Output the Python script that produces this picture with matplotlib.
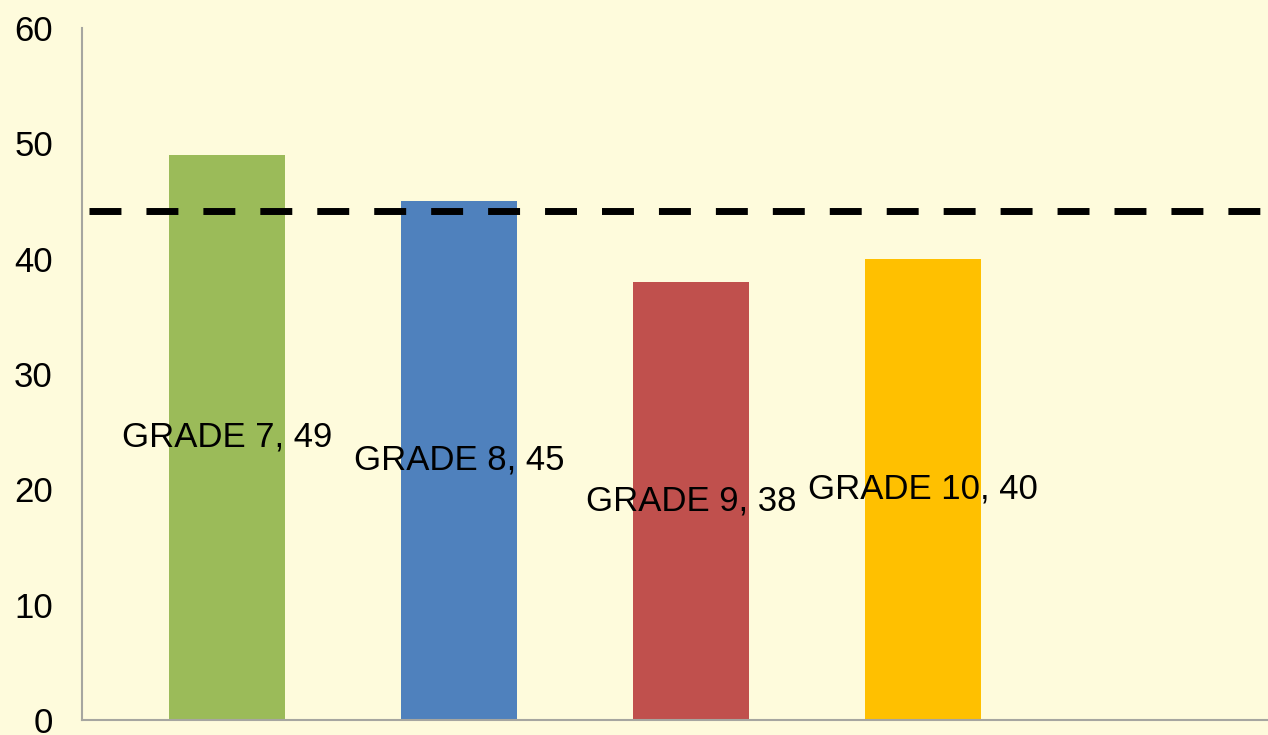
import numpy as np
import matplotlib
matplotlib.use("Agg")
import matplotlib.pyplot as plt

# values
grades = ["GRADE 7", "GRADE 8", "GRADE 9", "GRADE 10"]
scores = [49, 45, 38, 40]
bar_colors = ["#9BBB59", "#4F81BD", "#C0504D", "#FFC000"]
target = 44.1
yticks = [0, 10, 20, 30, 40, 50, 60]

bg = "#FEFBDC"
plt.rcParams['font.family'] = ['Liberation Sans', 'DejaVu Sans']

fig = plt.figure(figsize=(12.68, 7.35), dpi=100)
fig.patch.set_facecolor(bg)
ax = fig.add_axes([82/1268, 15/735, 1186/1268, 692/735])
ax.set_facecolor(bg)

x = np.arange(len(grades))
ax.bar(x, scores, width=0.5, color=bar_colors, zorder=2)

# dashed reference line
ax.plot([-0.595, 5], [target, target], color="black", lw=5.0,
        dashes=(4.6, 3.6), zorder=3, solid_capstyle="butt")

# data labels in the middle of each bar
for xi, name, v in zip(x, grades, scores):
    ax.text(xi, v / 2, f"{name}, {v}", ha="center", va="center",
            fontsize=25, color="black", zorder=4)

ax.set_xlim(-0.625, 4.487)
ax.set_ylim(0, 60)
ax.set_yticks(yticks)
ax.set_xticks([])
ax.tick_params(axis="y", length=0, pad=21, labelsize=25)

for side in ["top", "right"]:
    ax.spines[side].set_visible(False)
for side in ["left", "bottom"]:
    ax.spines[side].set_color("#A6A6A0")
    ax.spines[side].set_linewidth(1.5)

fig.savefig("out.png", dpi=100, facecolor=bg)
